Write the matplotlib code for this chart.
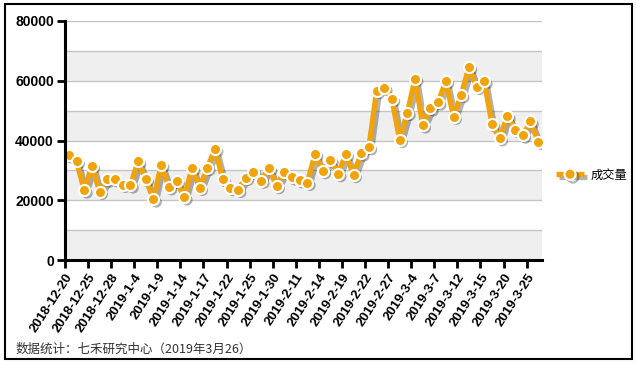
import matplotlib
matplotlib.use("Agg")
import matplotlib.pyplot as plt
import matplotlib.patheffects as pe
from matplotlib.lines import Line2D
from matplotlib.patches import Rectangle

# trading days 2018-12-20 .. 2019-3-26
dates = ["2018-12-20", "2018-12-21", "2018-12-24", "2018-12-25", "2018-12-26", "2018-12-27",
         "2018-12-28", "2019-1-2", "2019-1-3", "2019-1-4", "2019-1-7", "2019-1-8",
         "2019-1-9", "2019-1-10", "2019-1-11", "2019-1-14", "2019-1-15", "2019-1-16",
         "2019-1-17", "2019-1-18", "2019-1-21", "2019-1-22", "2019-1-23", "2019-1-24",
         "2019-1-25", "2019-1-28", "2019-1-29", "2019-1-30", "2019-1-31", "2019-2-1",
         "2019-2-11", "2019-2-12", "2019-2-13", "2019-2-14", "2019-2-15", "2019-2-18",
         "2019-2-19", "2019-2-20", "2019-2-21", "2019-2-22", "2019-2-25", "2019-2-26",
         "2019-2-27", "2019-2-28", "2019-3-1", "2019-3-4", "2019-3-5", "2019-3-6",
         "2019-3-7", "2019-3-8", "2019-3-11", "2019-3-12", "2019-3-13", "2019-3-14",
         "2019-3-15", "2019-3-18", "2019-3-19", "2019-3-20", "2019-3-21", "2019-3-22",
         "2019-3-25", "2019-3-26"]

volume = [35000, 33100, 23300, 31600, 22900, 27000, 27000, 25200, 25000, 33000,
          27000, 20300, 31900, 24400, 26400, 21000, 30700, 24200, 30900, 37200,
          27100, 24100, 23500, 27600, 29600, 26600, 30700, 24800, 29600, 27700,
          26700, 25900, 35500, 29800, 33500, 28800, 35500, 28500, 35700, 37800,
          56600, 57600, 53900, 40200, 49300, 60700, 45100, 50800, 52800, 59900,
          48000, 55300, 64500, 58000, 59800, 45400, 40800, 48100, 43600, 41700,
          46400, 39600]

series_name = "成交量"
note = "数据统计：七禾研究中心（2019年3月26）"

orange = "#f0a30a"
cjk = ["Noto Sans CJK SC", "DejaVu Sans"]

fig = plt.figure(figsize=(6.36, 3.66), dpi=100)
ax = fig.add_axes([65 / 636, 1 - 260 / 366, 477 / 636, 239 / 366])

# banded background + grid
for lo in range(0, 80000, 20000):
    ax.axhspan(lo, lo + 10000, color="#efefef", zorder=0, lw=0)
for lv in range(10000, 90000, 10000):
    ax.axhline(lv, color="#c4c4c4", lw=1, zorder=1)

x = list(range(len(volume)))
lw = 3.8
ms = 8
shadow_line = [pe.SimpleLineShadow(offset=(2, -2), shadow_color="k", alpha=0.3)]
shadow_dot = [pe.SimplePatchShadow(offset=(2, -2), shadow_rgbFace="k", alpha=0.3)]
ax.plot(x, volume, color=orange, lw=lw, solid_joinstyle="round", path_effects=shadow_line, zorder=2)
ax.plot(x, volume, ls="none", marker="o", ms=ms, color=orange, path_effects=shadow_dot, zorder=2)
ax.plot(x, volume, color=orange, lw=lw, solid_joinstyle="round", zorder=3)
ax.plot(x, volume, ls="none", marker="o", ms=ms, mfc=orange, mec="white", mew=1.5, zorder=4)

ax.set_xlim(-0.5, len(volume) - 0.5)
ax.set_ylim(0, 80000)
ticks = list(range(0, len(dates), 3))
ax.set_xticks([t - 0.5 for t in ticks])
ax.set_xticklabels([dates[t] for t in ticks], rotation=57, ha="right", va="top",
                   rotation_mode="anchor", fontsize=9.5, fontweight="bold",
                   family="Liberation Sans")
ax.set_yticks(range(0, 80001, 20000))
ax.set_yticklabels([str(v) for v in range(0, 80001, 20000)], fontsize=10,
                   fontweight="bold", family="Liberation Sans")
ax.tick_params(axis="x", length=6, width=2, pad=2)
ax.tick_params(axis="y", length=6, width=2, pad=2)
for s in ["top", "right"]:
    ax.spines[s].set_visible(False)
for s in ["left", "bottom"]:
    ax.spines[s].set_linewidth(2.2)
    ax.spines[s].set_zorder(5)

# legend
handle = Line2D([0], [0], color=orange, lw=lw, solid_capstyle="butt", marker="o", ms=ms,
                mfc=orange, mec="white", mew=1.5,
                path_effects=[pe.SimpleLineShadow(offset=(2, -2), shadow_color="k", alpha=0.3), pe.Normal()])
fig.legend([handle], [series_name], loc="center left",
           bbox_to_anchor=(545 / 636, 1 - 175 / 366), frameon=False,
           handlelength=2.3, handletextpad=0.5, numpoints=1,
           prop={"family": cjk, "size": 8.8})

fig.text(16 / 636, 1 - 349 / 366, note, va="center", ha="left", fontsize=9,
         color="#333333", family=cjk)

fig.patches.append(Rectangle((5 / 636, 1 - 359 / 366), 627 / 636, 355 / 366,
                             transform=fig.transFigure, fill=False, ec="black", lw=1.5))

fig.savefig("out.png", dpi=100)
